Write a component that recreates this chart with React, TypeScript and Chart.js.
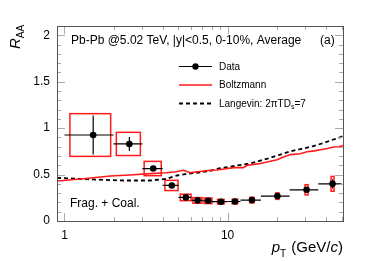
import React, { useEffect, useRef } from "react";
import { Chart, registerables } from "chart.js";
Chart.register(...registerables);

// Data points
const ptCenter = [1.5, 2.5, 3.5, 4.55, 5.55, 6.55, 7.6, 9.1, 11.1, 14.1, 20.2, 30.5, 44];
const ptLow = [1, 2, 3, 4, 5, 6, 7, 8, 10, 12, 16, 24, 36];
const ptHigh = [2, 3, 4, 5, 6, 7, 8, 10, 12, 16, 24, 36, 50];
const raa = [0.926, 0.83, 0.565, 0.383, 0.254, 0.222, 0.218, 0.208, 0.21, 0.225, 0.268, 0.336, 0.4];
const statErr = [0.21, 0.075, 0.03, 0.018, 0.012, 0.01, 0.01, 0.01, 0.01, 0.012, 0.02, 0.03, 0.05];
const systErr = [0.23, 0.125, 0.077, 0.055, 0.035, 0.03, 0.03, 0.025, 0.025, 0.03, 0.035, 0.055, 0.08];
const systHalfWidth = 0.42;

// Model curves
const boltzPt = [0.9, 1.2, 1.5, 1.91, 2.5, 3.36, 4.2, 4.8, 5.37, 5.9, 6.16, 7.0, 7.83, 8.6, 9.5, 10.9, 12.5, 13.2, 14.5, 15.9, 18, 20.1, 22, 24.3, 27.9, 30.7, 34, 37, 41, 44.7, 48, 51];
const boltzRaa = [0.43, 0.45, 0.465, 0.485, 0.495, 0.51, 0.52, 0.53, 0.547, 0.52, 0.525, 0.535, 0.545, 0.55, 0.56, 0.575, 0.575, 0.6, 0.61, 0.62, 0.64, 0.66, 0.69, 0.715, 0.725, 0.745, 0.755, 0.768, 0.78, 0.797, 0.8, 0.812];
const langPt = [0.9, 1.2, 1.6, 2.3, 3.35, 4.2, 4.9, 5.5, 6.8, 7.8, 9.0, 10.3, 11.5, 13.8, 15.5, 18.2, 21, 24.3, 28, 33.2, 38, 44, 48, 51];
const langRaa = [0.465, 0.455, 0.445, 0.436, 0.436, 0.454, 0.49, 0.505, 0.525, 0.54, 0.57, 0.583, 0.598, 0.62, 0.645, 0.68, 0.715, 0.75, 0.775, 0.804, 0.835, 0.875, 0.895, 0.915];

const yTicks = [0, 0.5, 1, 1.5, 2];
const yTickLabels = ["0", "0.5", "1", "1.5", "2"];
const xTicks = [1, 10];
const xTickLabels = ["1", "10"];

const FONT = '"Liberation Sans", Arial, Helvetica, sans-serif';

const drawPlugin = {
  id: "rootStyle",
  beforeDatasetsDraw(chart: any) {
    const { ctx, chartArea } = chart;
    const xs = chart.scales.x;
    const ys = chart.scales.y;
    ctx.save();
    ctx.beginPath();
    ctx.rect(chartArea.left, chartArea.top, chartArea.right - chartArea.left, chartArea.bottom - chartArea.top);
    ctx.clip();
    // syst boxes
    ctx.strokeStyle = "#ff1a1a";
    ctx.lineWidth = 1.5;
    for (let i = 0; i < ptCenter.length; i++) {
      let x1 = xs.getPixelForValue(ptCenter[i] - systHalfWidth);
      let x2 = xs.getPixelForValue(ptCenter[i] + systHalfWidth);
      if (x2 - x1 < 3) {
        const c = (x1 + x2) / 2;
        x1 = c - 1.5;
        x2 = c + 1.5;
      }
      const y1 = ys.getPixelForValue(raa[i] + systErr[i]);
      const y2 = ys.getPixelForValue(raa[i] - systErr[i]);
      ctx.strokeRect(x1, y1, x2 - x1, y2 - y1);
    }
    // stat error bars
    ctx.strokeStyle = "#000";
    ctx.lineWidth = 1.2;
    for (let i = 0; i < ptCenter.length; i++) {
      const xc = xs.getPixelForValue(ptCenter[i]);
      const yc = ys.getPixelForValue(raa[i]);
      ctx.beginPath();
      ctx.moveTo(xs.getPixelForValue(ptLow[i]), yc);
      ctx.lineTo(xs.getPixelForValue(ptHigh[i]), yc);
      ctx.moveTo(xc, ys.getPixelForValue(raa[i] + statErr[i]));
      ctx.lineTo(xc, ys.getPixelForValue(raa[i] - statErr[i]));
      ctx.stroke();
    }
    ctx.restore();
  },
  afterDraw(chart: any) {
    const { ctx, chartArea } = chart;
    const xs = chart.scales.x;
    const ys = chart.scales.y;
    const L = chartArea.left, R = chartArea.right, T = chartArea.top, B = chartArea.bottom;
    ctx.save();
    // ticks
    ctx.strokeStyle = "#aaaaaa";
    ctx.lineWidth = 1;
    ctx.beginPath();
    for (let v = 0; v <= 2.1001; v += 0.1) {
      const y = Math.round(ys.getPixelForValue(v)) + 0.5;
      const major = Math.abs(v / 0.5 - Math.round(v / 0.5)) < 1e-6;
      const len = major ? 8 : 4;
      ctx.moveTo(L, y); ctx.lineTo(L + len, y);
      ctx.moveTo(R, y); ctx.lineTo(R - len, y);
    }
    const decades = [1, 10];
    const xt: { v: number; major: boolean }[] = [];
    for (const d of decades) for (let k = 1; k <= 9; k++) xt.push({ v: d * k, major: k === 1 });
    for (const t of xt) {
      if (t.v < 0.9 || t.v > 51) continue;
      const x = Math.round(xs.getPixelForValue(t.v)) + 0.5;
      const len = t.major ? 8 : 4;
      ctx.moveTo(x, B); ctx.lineTo(x, B - len);
      ctx.moveTo(x, T); ctx.lineTo(x, T + len);
    }
    ctx.stroke();
    // frame
    ctx.strokeStyle = "#555555";
    ctx.lineWidth = 1;
    ctx.strokeRect(Math.round(L) + 0.5, Math.round(T) + 0.5, Math.round(R - L), Math.round(B - T));

    // tick labels
    ctx.fillStyle = "#000";
    ctx.font = `12px ${FONT}`;
    ctx.textAlign = "right";
    ctx.textBaseline = "middle";
    yTicks.forEach((v, i) => ctx.fillText(yTickLabels[i], L - 7, ys.getPixelForValue(v)));
    ctx.textAlign = "center";
    ctx.textBaseline = "middle";
    xTicks.forEach((v, i) => ctx.fillText(xTickLabels[i], xs.getPixelForValue(v), B + 15));

    // header text
    ctx.textAlign = "left";
    ctx.textBaseline = "middle";
    ctx.font = `12px ${FONT}`;
    ctx.fillText("Pb-Pb @5.02 TeV, |y|<0.5, 0-10%, Average", 71, 40.5);
    ctx.fillText("(a)", 320, 40.5);
    ctx.fillText("Frag. + Coal.", 70, 204);

    // legend
    const lx1 = 179, lx2 = 212, tx = 219;
    ctx.font = `10px ${FONT}`;
    // Data
    ctx.strokeStyle = "#000"; ctx.lineWidth = 1.2; ctx.setLineDash([]);
    ctx.beginPath(); ctx.moveTo(lx1, 66.5); ctx.lineTo(lx2, 66.5); ctx.stroke();
    ctx.beginPath(); ctx.arc((lx1 + lx2) / 2, 66.5, 3.2, 0, Math.PI * 2); ctx.fillStyle = "#000"; ctx.fill();
    ctx.fillText("Data", tx, 67);
    // Boltzmann
    ctx.strokeStyle = "#ff1a1a"; ctx.lineWidth = 1.6;
    ctx.beginPath(); ctx.moveTo(lx1, 85); ctx.lineTo(lx2, 85); ctx.stroke();
    ctx.fillText("Boltzmann", tx, 85.5);
    // Langevin
    ctx.strokeStyle = "#000"; ctx.lineWidth = 1.8; ctx.setLineDash([4, 3]);
    ctx.beginPath(); ctx.moveTo(lx1, 103.5); ctx.lineTo(lx2, 103.5); ctx.stroke();
    ctx.setLineDash([]);
    const t1 = "Langevin: 2\u03c0TD";
    ctx.fillText(t1, tx, 104);
    let w = ctx.measureText(t1).width;
    ctx.font = `7px ${FONT}`;
    ctx.fillText("s", tx + w, 107);
    const ws = ctx.measureText("s").width;
    ctx.font = `10px ${FONT}`;
    ctx.fillText("=7", tx + w + ws, 104);

    // x axis title
    ctx.textBaseline = "alphabetic";
    ctx.textAlign = "right";
    ctx.font = `15px ${FONT}`;
    const rest = " (GeV/";
    const cW = (() => { ctx.font = `italic 15px ${FONT}`; return ctx.measureText("c").width; })();
    ctx.font = `15px ${FONT}`;
    const parW = ctx.measureText(")").width;
    const restW = ctx.measureText(rest).width;
    let xr = R;
    ctx.fillText(")", xr, 252); xr -= parW;
    ctx.font = `italic 15px ${FONT}`;
    ctx.fillText("c", xr, 252); xr -= cW;
    ctx.font = `15px ${FONT}`;
    ctx.fillText(rest, xr, 252); xr -= restW;
    ctx.font = `10px ${FONT}`;
    const tW = ctx.measureText("T").width;
    ctx.fillText("T", xr - 1, 257); xr -= tW + 1;
    ctx.font = `italic 15px ${FONT}`;
    ctx.fillText("p", xr, 252);

    // y axis title (rotated)
    ctx.save();
    ctx.translate(20, 49);
    ctx.rotate(-Math.PI / 2);
    ctx.textAlign = "left";
    ctx.font = `italic 15px ${FONT}`;
    ctx.fillText("R", 0, 0);
    const rW = ctx.measureText("R").width;
    ctx.font = `10px ${FONT}`;
    ctx.fillText("AA", rW, 4);
    ctx.restore();

    ctx.restore();
  },
};

export default function App() {
  const ref = useRef<HTMLCanvasElement | null>(null);
  useEffect(() => {
    if (!ref.current) return;
    const chart = new Chart(ref.current, {
      type: "scatter",
      data: {
        datasets: [
          {
            label: "Boltzmann",
            data: boltzPt.map((x, i) => ({ x, y: boltzRaa[i] })),
            showLine: true,
            borderColor: "#ff1a1a",
            borderWidth: 1.6,
            pointRadius: 0,
            tension: 0,
          },
          {
            label: "Langevin",
            data: langPt.map((x, i) => ({ x, y: langRaa[i] })),
            showLine: true,
            borderColor: "#000",
            borderWidth: 1.8,
            borderDash: [4, 3],
            pointRadius: 0,
            tension: 0,
          },
          {
            label: "Data",
            data: ptCenter.map((x, i) => ({ x, y: raa[i] })),
            showLine: false,
            pointRadius: 3.3,
            pointBackgroundColor: "#000",
            pointBorderColor: "#000",
            pointBorderWidth: 0,
          },
        ],
      },
      options: {
        animation: false,
        responsive: false,
        devicePixelRatio: 1,
        layout: { padding: { left: 57, top: 26, right: 39, bottom: 40 } },
        plugins: { legend: { display: false }, tooltip: { enabled: false } },
        scales: {
          x: { type: "logarithmic", min: 0.9, max: 51, display: false },
          y: { type: "linear", min: 0, max: 2.1, display: false },
        },
      },
      plugins: [drawPlugin],
    });
    return () => chart.destroy();
  }, []);
  return (
    <div style={{ position: "absolute", left: 0, top: 0, width: 382, height: 261, background: "#fff" }}>
      <canvas ref={ref} width={382} height={261} />
    </div>
  );
}
